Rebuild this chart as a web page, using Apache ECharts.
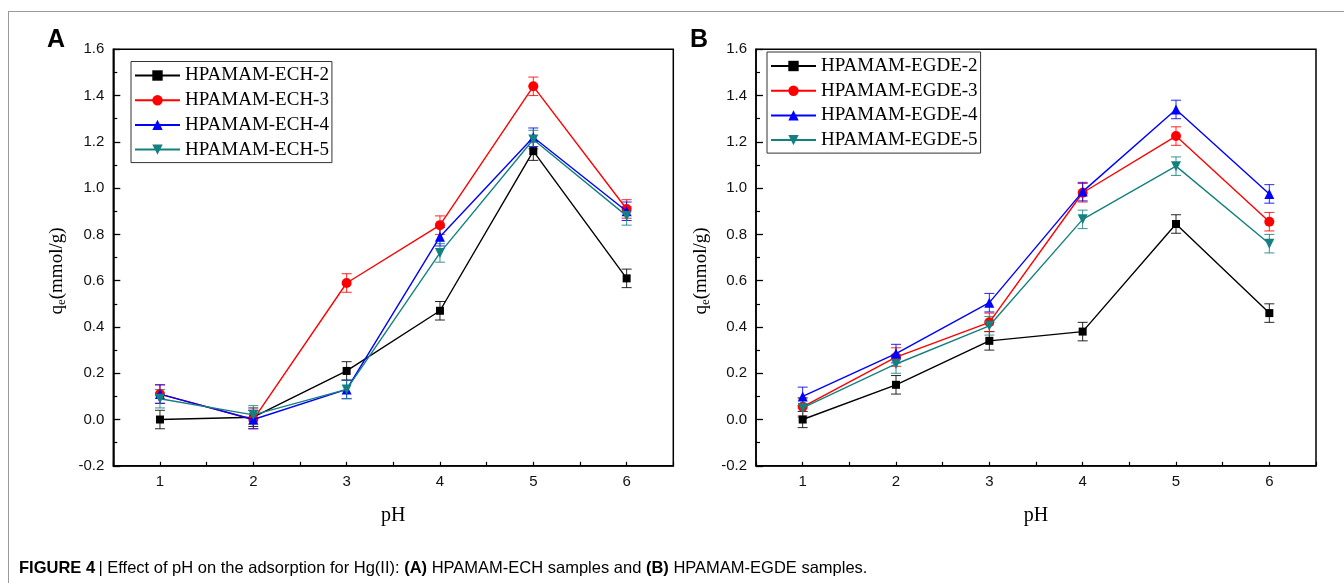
<!DOCTYPE html>
<html>
<head>
<meta charset="utf-8">
<script src="https://cdn.jsdelivr.net/npm/echarts@6/dist/echarts.min.js"></script>
<style>
html,body{margin:0;padding:0;background:#fff;}
#chart{width:1344px;height:583px;}
</style>
</head>
<body>
<div id="chart"></div>
<script>
// ---- data ----
const pHLabels = ['1', '2', '3', '4', '5', '6'];
const yTickMin = -0.2, yTickMax = 1.6, yTickStep = 0.2;

const namesA = ['HPAMAM-ECH-2', 'HPAMAM-ECH-3', 'HPAMAM-ECH-4', 'HPAMAM-ECH-5'];
const ech2 = [0.00, 0.01, 0.21, 0.47, 1.16, 0.61];
const ech3 = [0.11, 0.00, 0.59, 0.84, 1.44, 0.91];
const ech4 = [0.11, 0.00, 0.13, 0.79, 1.22, 0.90];
const ech5 = [0.09, 0.02, 0.13, 0.72, 1.21, 0.88];
const errEch2 = [0.04, 0.04, 0.04, 0.04, 0.04, 0.04];
const errEch3 = [0.04, 0.04, 0.04, 0.04, 0.04, 0.04];
const errEch4 = [0.04, 0.04, 0.04, 0.04, 0.04, 0.04];
const errEch5 = [0.04, 0.04, 0.04, 0.04, 0.04, 0.04];

const namesB = ['HPAMAM-EGDE-2', 'HPAMAM-EGDE-3', 'HPAMAM-EGDE-4', 'HPAMAM-EGDE-5'];
const egde2 = [0.00, 0.15, 0.34, 0.38, 0.845, 0.46];
const egde3 = [0.055, 0.27, 0.42, 0.98, 1.225, 0.855];
const egde4 = [0.10, 0.285, 0.505, 0.985, 1.34, 0.975];
const egde5 = [0.05, 0.24, 0.405, 0.865, 1.095, 0.76];
const errEgde2 = [0.035, 0.04, 0.04, 0.04, 0.04, 0.04];
const errEgde3 = [0.04, 0.04, 0.04, 0.04, 0.04, 0.04];
const errEgde4 = [0.04, 0.04, 0.04, 0.04, 0.04, 0.04];
const errEgde5 = [0.04, 0.04, 0.04, 0.04, 0.04, 0.04];

const colors = ['#000000', '#ff0000', '#0000ff', '#158080'];
const symbols = ['rect', 'circle', 'triangle', 'path://M0,0 L10,0 L5,9 Z'];
const symbolSizes = [8, 10, 10, 10];

const SANS = '"Liberation Sans", Arial, sans-serif';
const SERIF = '"Liberation Serif", "Times New Roman", serif';

const chart = echarts.init(document.getElementById('chart'), null, {renderer: 'canvas'});

const gridA = {left: 113.3, top: 49.3, width: 560, height: 416.5};
const gridB = {left: 756, top: 49.3, width: 560, height: 416.5};

function gridOpt(g) {
  return Object.assign({show: true, borderColor: '#000', borderWidth: 1.5, backgroundColor: 'transparent'}, g);
}

function catAxis(gi) {
  return {
    type: 'category', gridIndex: gi, data: pHLabels, boundaryGap: true, position: 'bottom',
    name: 'pH', nameLocation: 'middle', nameGap: 40,
    nameTextStyle: {fontFamily: SERIF, fontSize: 20, color: '#000'},
    axisLine: {onZero: false, lineStyle: {color: '#000', width: 1.5}},
    axisTick: {inside: true, alignWithLabel: true, length: 7, lineStyle: {color: '#000', width: 1.3}},
    axisLabel: {margin: 9, fontFamily: SANS, fontSize: 15, color: '#111'},
    splitLine: {show: false}
  };
}
function minorXAxis(gi) {
  return {
    type: 'value', gridIndex: gi, min: 0.5, max: 6.5, interval: 0.5, position: 'bottom', offset: 0,
    axisLine: {show: false, onZero: false},
    axisTick: {inside: true, length: 4, lineStyle: {color: '#000', width: 1.2}},
    axisLabel: {show: false},
    splitLine: {show: false}
  };
}
function yAx(gi) {
  return {
    type: 'value', gridIndex: gi, min: yTickMin, max: yTickMax, interval: yTickStep,
    axisLine: {show: true, onZero: false, lineStyle: {color: '#000', width: 1.5}},
    axisTick: {show: true, inside: true, length: 7, lineStyle: {color: '#000', width: 1.3}},
    minorTick: {show: true, splitNumber: 2, length: 4, lineStyle: {color: '#000', width: 1.2}},
    axisLabel: {margin: 9, fontFamily: SANS, fontSize: 15, color: '#111',
      formatter: v => v.toFixed(1)},
    splitLine: {show: false}, minorSplitLine: {show: false}
  };
}

function lineSeries(name, data, k, xi, yi) {
  return {
    type: 'line', name: name, data: data, xAxisIndex: xi, yAxisIndex: yi,
    symbol: symbols[k], symbolSize: symbolSizes[k], showSymbol: true,
    itemStyle: {color: colors[k]}, lineStyle: {color: colors[k], width: 1.4},
    z: 10 + k, animation: false
  };
}
function errSeries(name, data, err, k, xi, yi) {
  return {
    type: 'custom', name: name + ' error', xAxisIndex: xi, yAxisIndex: yi,
    data: data.map((v, i) => [i, v - err[i], v + err[i]]),
    encode: {x: 0, y: [1, 2]},
    z: 5 + k, silent: true, animation: false,
    renderItem: function (params, api) {
      const lo = api.coord([api.value(0), api.value(1)]);
      const hi = api.coord([api.value(0), api.value(2)]);
      const w = 5;
      const st = {stroke: colors[k], lineWidth: 1, opacity: 0.85};
      return {
        type: 'group', children: [
          {type: 'line', shape: {x1: lo[0], y1: lo[1], x2: hi[0], y2: hi[1]}, style: st},
          {type: 'line', shape: {x1: lo[0] - w, y1: lo[1], x2: lo[0] + w, y2: lo[1]}, style: st},
          {type: 'line', shape: {x1: hi[0] - w, y1: hi[1], x2: hi[0] + w, y2: hi[1]}, style: st}
        ]
      };
    }
  };
}

const dataA = [ech2, ech3, ech4, ech5];
const errA = [errEch2, errEch3, errEch4, errEch5];
const dataB = [egde2, egde3, egde4, egde5];
const errB = [errEgde2, errEgde3, errEgde4, errEgde5];

const series = [];
dataA.forEach((d, k) => series.push(errSeries(namesA[k], d, errA[k], k, 0, 0)));
dataA.forEach((d, k) => series.push(lineSeries(namesA[k], d, k, 0, 0)));
dataB.forEach((d, k) => series.push(errSeries(namesB[k], d, errB[k], k, 2, 1)));
dataB.forEach((d, k) => series.push(lineSeries(namesB[k], d, k, 2, 1)));

function legendOpt(names, left, top) {
  return {
    data: names, orient: 'vertical', left: left, top: top,
    itemWidth: 45, itemHeight: 13, itemGap: 4.7,
    padding: [4, 3, 3, 3],
    borderColor: '#333', borderWidth: 1, backgroundColor: '#fff',
    textStyle: {fontFamily: SERIF, fontSize: 19, color: '#000', lineHeight: 20},
    selectedMode: false
  };
}

const yTitleRich = {
  m: {fontFamily: SERIF, fontSize: 19, color: '#000', lineHeight: 22},
  s: {fontFamily: SERIF, fontSize: 13, color: '#000', lineHeight: 12, verticalAlign: 'bottom'}
};

const option = {
  animation: false,
  backgroundColor: '#fff',
  grid: [gridOpt(gridA), gridOpt(gridB)],
  xAxis: [catAxis(0), minorXAxis(0), catAxis(1), minorXAxis(1)],
  yAxis: [yAx(0), yAx(1)],
  legend: [legendOpt(namesA, 131, 61.5), legendOpt(namesB, 767, 52)],
  series: series,
  graphic: [
    {type: 'line', shape: {x1: 8, y1: 11.5, x2: 1344, y2: 11.5}, style: {stroke: '#9a9a9a', lineWidth: 1}, silent: true},
    {type: 'line', shape: {x1: 8.5, y1: 11, x2: 8.5, y2: 583}, style: {stroke: '#9a9a9a', lineWidth: 1}, silent: true},
    {type: 'text', x: 47, y: 40, style: {text: 'A', font: 'bold 25px ' + SANS, fill: '#000', verticalAlign: 'middle'}},
    {type: 'text', x: 690, y: 40, style: {text: 'B', font: 'bold 25px ' + SANS, fill: '#000', verticalAlign: 'middle'}},
    {type: 'text', x: 57, y: 271, rotation: Math.PI / 2,
      style: {text: '{m|q}{s|e}{m|(mmol/g)}', rich: yTitleRich, align: 'center', verticalAlign: 'middle'}},
    {type: 'text', x: 701, y: 271, rotation: Math.PI / 2,
      style: {text: '{m|q}{s|e}{m|(mmol/g)}', rich: yTitleRich, align: 'center', verticalAlign: 'middle'}},
    {type: 'text', x: 19, y: 568,
      style: {
        text: '{b|FIGURE 4} {r|| Effect of pH on the adsorption for Hg(II): }{b|(A)}{r| HPAMAM-ECH samples and }{b|(B)}{r| HPAMAM-EGDE samples.}',
        verticalAlign: 'middle',
        rich: {
          b: {fontFamily: SANS, fontWeight: 'bold', fontSize: 16.5, color: '#1a1a1a'},
          r: {fontFamily: SANS, fontSize: 16.5, color: '#1a1a1a'}
        }
      }}
  ]
};
chart.setOption(option);
</script>
</body>
</html>
